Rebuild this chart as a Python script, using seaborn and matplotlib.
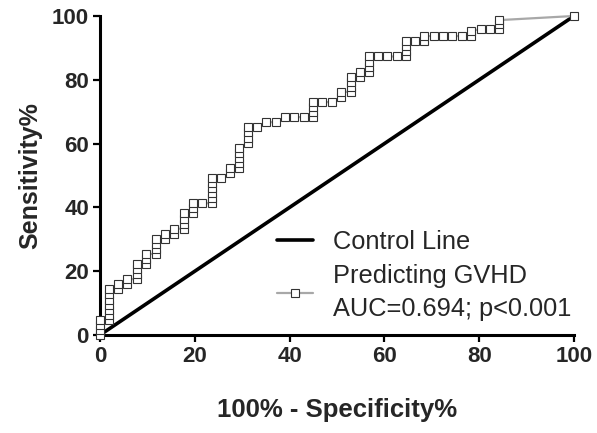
import matplotlib
matplotlib.use("Agg")
import matplotlib.pyplot as plt
import seaborn as sns
import pandas as pd

# ROC points (x = 100% - specificity, y = sensitivity)
fpr = [0, 0, 0, 0,
       1.9, 1.9, 1.9, 1.9, 1.9, 1.9, 1.9,
       3.8, 3.8,
       5.7, 5.7,
       7.8, 7.8, 7.8, 7.8,
       9.7, 9.7, 9.7,
       11.8, 11.8, 11.8, 11.8,
       13.7, 13.7,
       15.6, 15.6,
       17.7, 17.7, 17.7, 17.7,
       19.6, 19.6, 19.6,
       21.5,
       23.6, 23.6, 23.6, 23.6, 23.6, 23.6,
       25.5,
       27.4, 27.4,
       29.3, 29.3, 29.3, 29.3, 29.3,
       31.2, 31.2, 31.2, 31.2,
       33.1, 35.0, 37.1, 39.0, 40.9, 43.0,
       44.9, 44.9, 44.9, 44.9,
       46.8, 48.9,
       50.8, 50.8,
       53.0, 53.0, 53.0, 53.0,
       54.9, 54.9,
       56.8, 56.8, 56.8, 56.8,
       58.6, 60.5, 62.7,
       64.6, 64.6, 64.6, 64.6,
       66.5,
       68.4, 68.4,
       70.5, 72.4, 74.3, 76.4,
       78.3, 78.3,
       80.4, 82.3,
       84.2, 84.2, 84.2,
       100]
tpr = [0, 1.6, 3.2, 4.8,
       4.8, 6.3, 7.9, 9.5, 11.1, 12.7, 14.3,
       14.3, 15.9,
       15.9, 17.5,
       17.5, 19.0, 20.6, 22.2,
       22.2, 23.8, 25.4,
       25.4, 27.0, 28.6, 30.2,
       30.2, 31.7,
       31.7, 33.3,
       33.3, 34.9, 36.5, 38.1,
       38.1, 39.7, 41.3,
       41.3,
       41.3, 42.9, 44.4, 46.0, 47.6, 49.2,
       49.2,
       50.8, 52.4,
       52.4, 54.0, 55.6, 57.1, 58.7,
       60.3, 61.9, 63.5, 65.1,
       65.1, 66.7, 66.7, 68.3, 68.3, 68.3,
       68.3, 69.8, 71.4, 73.0,
       73.0, 73.0,
       74.6, 76.2,
       76.2, 77.8, 79.4, 81.0,
       81.0, 82.5,
       82.5, 84.1, 85.7, 87.3,
       87.3, 87.3, 87.3,
       87.3, 88.9, 90.5, 92.1,
       92.1,
       92.1, 93.7,
       93.7, 93.7, 93.7, 93.7,
       93.7, 95.2,
       96.0, 96.0,
       96.0, 97.5, 98.7,
       100]

control_x = [0, 100]
control_y = [0, 100]

x_ticks = [0, 20, 40, 60, 80, 100]
y_ticks = [0, 20, 40, 60, 80, 100]

label_control = "Control Line"
label_roc = "Predicting GVHD\nAUC=0.694; p<0.001"

sns.set_style("ticks")
plt.rcParams["font.family"] = ["Liberation Sans", "DejaVu Sans"]

fig = plt.figure(figsize=(5.97, 4.33), dpi=100)
ax = fig.add_axes([0.1675, 0.2263, 0.7940, 0.7368])

df_roc = pd.DataFrame({"fpr": fpr, "tpr": tpr})
df_ctrl = pd.DataFrame({"x": control_x, "y": control_y})

sns.lineplot(data=df_ctrl, x="x", y="y", ax=ax, color="black", linewidth=2.6,
             estimator=None, sort=False, label=label_control, clip_on=False, zorder=2)
sns.lineplot(data=df_roc, x="fpr", y="tpr", ax=ax, color="#a8a8a8", linewidth=1.6,
             estimator=None, sort=False, marker="s", markersize=5.2,
             markerfacecolor="white", markeredgecolor="#333333", markeredgewidth=0.8,
             label=label_roc, clip_on=False, zorder=3)

ax.set_xlim(0, 100)
ax.set_ylim(0, 100)
ax.set_xticks(x_ticks)
ax.set_yticks(y_ticks)
ax.set_xticklabels([str(v) for v in x_ticks], fontsize=16, fontweight="bold")
ax.set_yticklabels([str(v) for v in y_ticks], fontsize=16, fontweight="bold")
ax.tick_params(axis="both", direction="out", length=5, width=1.6, pad=3, color="black")

for side in ["left", "bottom"]:
    ax.spines[side].set_linewidth(2.2)
    ax.spines[side].set_color("black")
sns.despine(ax=ax)

ax.set_xlabel("100% - Specificity%", fontsize=18.5, fontweight="bold", labelpad=22)
ax.set_ylabel("Sensitivity%", fontsize=18, fontweight="bold", labelpad=7)

leg = ax.legend(loc="upper left", bbox_to_anchor=(277 / 597, 1 - 230 / 433),
                bbox_transform=fig.transFigure, frameon=False, fontsize=18.3,
                handlelength=1.42, handletextpad=0.8, borderpad=0, borderaxespad=0,
                labelspacing=0.38)
leg.get_texts()[1].set_linespacing(1.5)

fig.savefig("out.png", dpi=100)
